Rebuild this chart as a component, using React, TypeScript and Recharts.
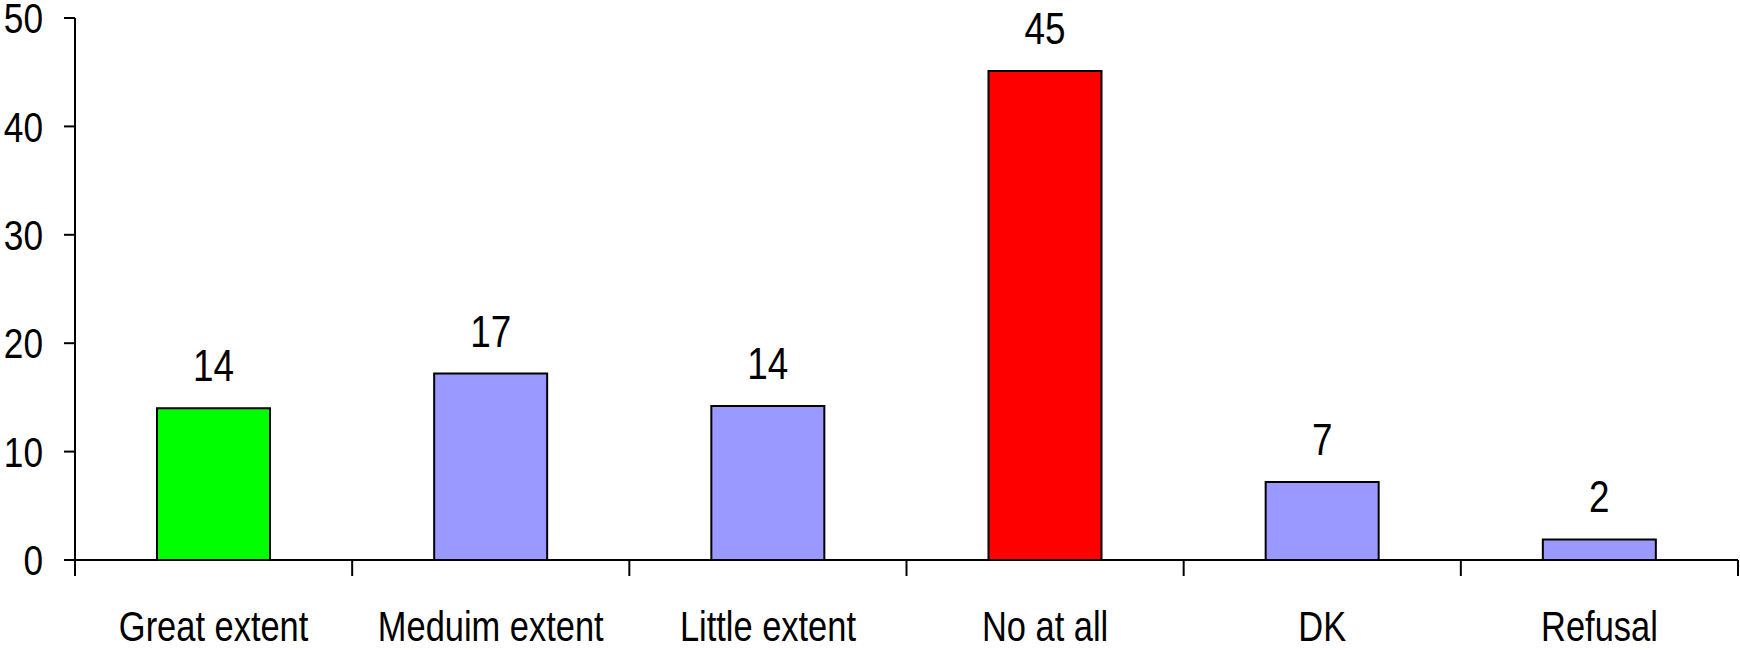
import { BarChart, Bar, XAxis, YAxis, Cell, LabelList } from "recharts";

const categories = ["Great extent", "Meduim extent", "Little extent", "No at all", "DK", "Refusal"];
const values = [14.0, 17.2, 14.2, 45.1, 7.2, 1.9];
const barColors = ["#00ff00", "#9999ff", "#9999ff", "#ff0000", "#9999ff", "#9999ff"];
const yTicks = [0, 10, 20, 30, 40, 50];
// category boundaries for the x-axis tick marks
const boundaryTicks = [0, 1, 2, 3, 4, 5, 6];

const FONT = '"Liberation Sans", Arial, sans-serif';
const SQUEEZE = 0.82; // the original uses a narrow face

const data = categories.map((name, i) => ({ name, slot: i + 0.5, value: values[i] }));

function NarrowText({ x, y, anchor, dy, size, children }: any) {
  return (
    <g transform={`translate(${x},${y})`}>
      <text
        transform={`scale(${SQUEEZE},1)`}
        textAnchor={anchor}
        dy={dy}
        fontSize={size}
        fontFamily={FONT}
        fill="#000"
      >
        {children}
      </text>
    </g>
  );
}

function XTick({ x, y, payload }: any) {
  return (
    <NarrowText x={x} y={y} anchor="middle" dy="0.71em" size={42}>
      {payload.value}
    </NarrowText>
  );
}

function YTick({ x, y, payload }: any) {
  return (
    <NarrowText x={x} y={y} anchor="end" dy="0.355em" size={43}>
      {payload.value}
    </NarrowText>
  );
}

function ValueLabel({ x, y, width, value }: any) {
  return (
    <NarrowText x={x + width / 2} y={y - 27} anchor="middle" dy={0} size={45}>
      {Math.round(value)}
    </NarrowText>
  );
}

export default function App() {
  return (
    <div style={{ width: 1740, height: 650 }}>
      <style>{`body{margin:0}`}</style>
      <BarChart
        width={1740}
        height={650}
        data={data}
        margin={{ top: 18, right: 2, left: 0, bottom: 0 }}
      >
        <XAxis
          xAxisId="bounds"
          type="number"
          dataKey="slot"
          domain={[0, 6]}
          ticks={boundaryTicks}
          allowDataOverflow
          height={16}
          axisLine={{ stroke: "#000", strokeWidth: 2 }}
          tickSize={16}
          tickLine={{ stroke: "#000", strokeWidth: 2 }}
          tick={() => <g />}
        />
        <XAxis
          xAxisId="cat"
          dataKey="name"
          height={74}
          interval={0}
          tickSize={0}
          tickLine={false}
          tickMargin={35}
          axisLine={false}
          tick={<XTick />}
        />
        <YAxis
          width={75}
          domain={[0, 50]}
          ticks={yTicks}
          interval={0}
          tickSize={11}
          tickMargin={21}
          axisLine={{ stroke: "#000", strokeWidth: 2 }}
          tickLine={{ stroke: "#000", strokeWidth: 2 }}
          tick={<YTick />}
        />
        <Bar
          xAxisId="cat"
          dataKey="value"
          barSize={113}
          stroke="#000"
          strokeWidth={2}
          isAnimationActive={false}
        >
          {data.map((d, i) => (
            <Cell key={d.name} fill={barColors[i]} />
          ))}
          <LabelList dataKey="value" content={<ValueLabel />} />
        </Bar>
      </BarChart>
    </div>
  );
}
